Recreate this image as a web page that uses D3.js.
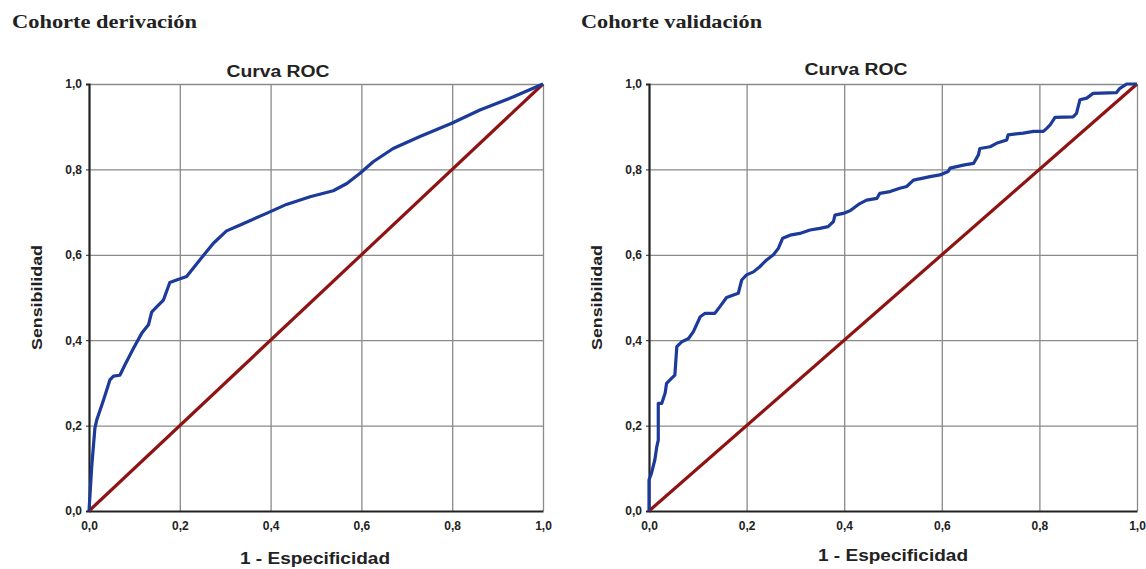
<!DOCTYPE html>
<html>
<head>
<meta charset="utf-8">
<title>Curvas ROC</title>
<script src="https://d3js.org/d3.v7.min.js"></script>
<style>
  body { margin: 0; background: #fff; }
  text { font-family: "Liberation Sans", Arial, sans-serif; font-weight: bold; fill: #222; }
  .heading { font-family: "Liberation Serif", "Times New Roman", serif; }
</style>
</head>
<body>
<div id="chart"></div>
<script>
// tick values shared by both axes
var ticks = [0, 0.2, 0.4, 0.6, 0.8, 1.0];

// Cohorte derivación
var derivX = [0, 0.006, 0.013, 0.017, 0.032, 0.046, 0.054, 0.068, 0.079, 0.098, 0.116, 0.131, 0.138, 0.149, 0.164, 0.178, 0.193, 0.215, 0.244, 0.274, 0.303, 0.333, 0.391, 0.435, 0.487, 0.538, 0.568, 0.597, 0.626, 0.670, 0.729, 0.799, 0.861, 0.935, 1];
var derivY = [0, 0.104, 0.194, 0.213, 0.260, 0.307, 0.316, 0.318, 0.342, 0.381, 0.416, 0.436, 0.466, 0.478, 0.494, 0.535, 0.541, 0.549, 0.588, 0.627, 0.656, 0.670, 0.697, 0.718, 0.736, 0.750, 0.767, 0.791, 0.818, 0.849, 0.877, 0.908, 0.939, 0.970, 1];

// Cohorte validación
var validX = [0, 0, 0.005, 0.012, 0.016, 0.019, 0.019, 0.026, 0.033, 0.036, 0.043, 0.053, 0.057, 0.067, 0.081, 0.091, 0.105, 0.115, 0.135, 0.145, 0.159, 0.173, 0.183, 0.190, 0.200, 0.214, 0.227, 0.241, 0.255, 0.265, 0.274, 0.289, 0.309, 0.330, 0.350, 0.367, 0.378, 0.381, 0.398, 0.412, 0.432, 0.446, 0.467, 0.473, 0.494, 0.514, 0.528, 0.542, 0.576, 0.596, 0.613, 0.617, 0.644, 0.665, 0.675, 0.678, 0.699, 0.712, 0.733, 0.736, 0.767, 0.788, 0.808, 0.815, 0.822, 0.832, 0.869, 0.876, 0.883, 0.897, 0.910, 0.958, 0.965, 0.979, 1];
var validY = [0, 0.073, 0.088, 0.120, 0.151, 0.166, 0.252, 0.252, 0.276, 0.299, 0.307, 0.318, 0.385, 0.396, 0.404, 0.420, 0.455, 0.463, 0.463, 0.478, 0.500, 0.506, 0.510, 0.541, 0.553, 0.560, 0.572, 0.588, 0.600, 0.615, 0.639, 0.646, 0.650, 0.658, 0.662, 0.666, 0.678, 0.693, 0.697, 0.703, 0.720, 0.728, 0.732, 0.744, 0.748, 0.756, 0.760, 0.775, 0.783, 0.787, 0.795, 0.803, 0.810, 0.814, 0.834, 0.849, 0.853, 0.861, 0.869, 0.881, 0.885, 0.889, 0.889, 0.896, 0.904, 0.922, 0.923, 0.931, 0.963, 0.967, 0.978, 0.980, 0.990, 1.0, 1.0];

// reference diagonal
var refX = [0, 1];
var refY = [0, 1];

var fmt = d3.formatLocale({decimal: ",", thousands: ".", grouping: [3], currency: ["", ""]}).format(".1f");

var svg = d3.select("#chart").append("svg")
    .attr("width", 1146)
    .attr("height", 569);

var panels = [
  {heading: "Cohorte derivación", hx: 12, hw: 185, left: 89, right: 543, top: 84, bottom: 511,
   titleX: 278, titleY: 77, ylabX: 42, xlabX: 315, xlabY: 564, xs: derivX, ys: derivY},
  {heading: "Cohorte validación", hx: 581, hw: 181, left: 649, right: 1137, top: 84, bottom: 511,
   titleX: 856, titleY: 75, ylabX: 602, xlabX: 893, xlabY: 561, xs: validX, ys: validY}
];

panels.forEach(function(p) {
  var x = d3.scaleLinear().domain([0, 1]).range([p.left, p.right]);
  var y = d3.scaleLinear().domain([0, 1]).range([p.bottom, p.top]);
  var w = p.right - p.left, h = p.bottom - p.top;

  // heading above the panel
  svg.append("text")
    .attr("class", "heading")
    .attr("x", p.hx).attr("y", 28)
    .attr("font-size", 19)
    .attr("textLength", p.hw).attr("lengthAdjust", "spacingAndGlyphs")
    .text(p.heading);

  // grid
  var gx = svg.append("g")
    .attr("transform", "translate(0," + p.bottom + ")")
    .call(d3.axisBottom(x).tickValues(ticks.slice(1)).tickSize(-h).tickFormat(""));
  gx.select(".domain").remove();
  gx.selectAll("line").attr("stroke", "#8a8a8a").attr("stroke-width", 1.3);

  var gy = svg.append("g")
    .attr("transform", "translate(" + p.left + ",0)")
    .call(d3.axisLeft(y).tickValues(ticks.slice(1)).tickSize(-w).tickFormat(""));
  gy.select(".domain").remove();
  gy.selectAll("line").attr("stroke", "#8a8a8a").attr("stroke-width", 1.3);

  // axes
  var ax = svg.append("g")
    .attr("transform", "translate(0," + p.bottom + ")")
    .call(d3.axisBottom(x).tickValues(ticks).tickSize(0).tickPadding(10).tickFormat(fmt));
  ax.select(".domain").attr("stroke", "#222").attr("stroke-width", 2.2);
  ax.selectAll("text").attr("font-size", 12).attr("font-family", "Liberation Sans, Arial, sans-serif").attr("font-weight", "bold").attr("fill", "#333");

  var ay = svg.append("g")
    .attr("transform", "translate(" + p.left + ",0)")
    .call(d3.axisLeft(y).tickValues(ticks).tickSize(3).tickPadding(4).tickFormat(fmt));
  ay.select(".domain").attr("stroke", "#222").attr("stroke-width", 2.2);
  ay.selectAll("line").attr("stroke", "#222");
  ay.selectAll("text").attr("font-size", 12).attr("font-family", "Liberation Sans, Arial, sans-serif").attr("font-weight", "bold").attr("fill", "#333");

  // reference line
  var line = d3.line().x(function(d) { return x(d[0]); }).y(function(d) { return y(d[1]); });
  svg.append("path")
    .datum(d3.zip(refX, refY))
    .attr("fill", "none")
    .attr("stroke", "#8e1414")
    .attr("stroke-width", 3.2)
    .attr("d", line);

  // ROC curve
  svg.append("path")
    .datum(d3.zip(p.xs, p.ys))
    .attr("fill", "none")
    .attr("stroke", "#1c3a9a")
    .attr("stroke-width", 3.2)
    .attr("stroke-linejoin", "round")
    .attr("d", line);

  // titles
  svg.append("text")
    .attr("x", p.titleX).attr("y", p.titleY)
    .attr("text-anchor", "middle")
    .attr("font-size", 16)
    .attr("textLength", 103).attr("lengthAdjust", "spacingAndGlyphs")
    .text("Curva ROC");

  svg.append("text")
    .attr("x", p.xlabX).attr("y", p.xlabY)
    .attr("text-anchor", "middle")
    .attr("font-size", 16)
    .attr("textLength", 150).attr("lengthAdjust", "spacingAndGlyphs")
    .text("1 - Especificidad");

  svg.append("text")
    .attr("transform", "translate(" + p.ylabX + "," + ((p.top + p.bottom) / 2) + ") rotate(-90)")
    .attr("text-anchor", "middle")
    .attr("font-size", 15)
    .attr("textLength", 105).attr("lengthAdjust", "spacingAndGlyphs")
    .text("Sensibilidad");
});
</script>
</body>
</html>
